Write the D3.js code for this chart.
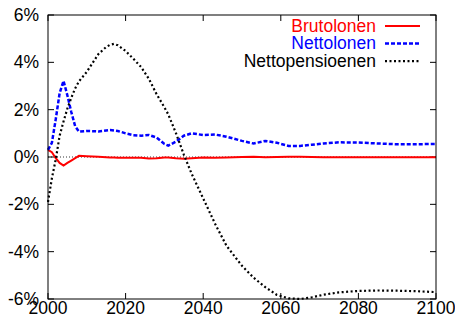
<!DOCTYPE html>
<html>
<head>
<meta charset="utf-8">
<script src="https://cdn.jsdelivr.net/npm/d3@7"></script>
<style>
  body { margin: 0; background: #fff; }
  svg { display: block; font-family: "Liberation Sans", Arial, sans-serif; }
</style>
</head>
<body>
<svg id="chart"></svg>
<script>
const years = [2000, 2001, 2002, 2003, 2004, 2005, 2006, 2007, 2008, 2010, 2013, 2014, 2015, 2016, 2017, 2018,
  2019, 2020, 2022, 2024, 2026, 2028, 2030, 2031, 2033, 2035, 2037, 2040, 2043, 2046, 2050, 2053, 2056,
  2059, 2062, 2065, 2068, 2071, 2075, 2080, 2085, 2090, 2095, 2100];

const brutolonen = [0.3, 0.2, -0.05, -0.25, -0.36, -0.25, -0.15, -0.05, 0.05, 0.03, 0.01, 0.0, -0.01, -0.02, -0.02, -0.03,
  -0.03, -0.03, -0.03, -0.03, -0.06, -0.05, -0.02, -0.02, -0.05, -0.07, -0.05, -0.02, -0.03, -0.02, 0.0, 0.01, -0.01,
  0.0, 0.01, 0.01, 0.0, -0.01, -0.01, -0.01, -0.01, -0.01, -0.01, -0.01];

const nettolonen = [0.3, 0.6, 1.6, 2.7, 3.22, 2.6, 1.9, 1.3, 1.07, 1.1, 1.08, 1.1, 1.12, 1.14, 1.12, 1.1,
  1.05, 1.0, 0.92, 0.9, 0.93, 0.82, 0.55, 0.48, 0.65, 0.9, 1.0, 0.93, 0.95, 0.86, 0.68, 0.57, 0.68,
  0.6, 0.47, 0.47, 0.52, 0.57, 0.62, 0.61, 0.57, 0.54, 0.54, 0.55];

const nettopensioenen = [-1.9, -0.9, -0.1, 0.9, 1.5, 2.05, 2.5, 2.9, 3.2, 3.6, 4.35, 4.5, 4.65, 4.74, 4.78, 4.72,
  4.6, 4.48, 4.15, 3.8, 3.3, 2.65, 2.1, 1.8, 1.0, 0.1, -0.7, -1.75, -2.8, -3.75, -4.6, -5.1, -5.5,
  -5.83, -5.97, -6.0, -5.93, -5.82, -5.72, -5.66, -5.64, -5.65, -5.67, -5.71];

const xTicks = [2000, 2020, 2040, 2060, 2080, 2100];
const yTicks = [-6, -4, -2, 0, 2, 4, 6];

const seriesNames = ['Brutolonen', 'Nettolonen', 'Nettopensioenen'];
const seriesColors = ['#ff0000', '#0000ff', '#000000'];

const width = 455, height = 322;
const marginLeft = 48, marginRight = 19, marginTop = 15, marginBottom = 23;

const svg = d3.select('#chart')
  .attr('width', width)
  .attr('height', height);

const x = d3.scaleLinear().domain([2000, 2100]).range([marginLeft, width - marginRight]);
const y = d3.scaleLinear().domain([-6, 6]).range([height - marginBottom, marginTop]);

// zero axis, thin dotted
svg.append('line')
  .attr('x1', x(2000)).attr('x2', x(2100))
  .attr('y1', y(0)).attr('y2', y(0))
  .attr('stroke', '#000').attr('stroke-width', 0.8)
  .attr('stroke-dasharray', '1,2');

// ticks go inward on all four sides (gnuplot mirror)
const tickLen = 6;
const axisG = svg.append('g').attr('stroke', '#000').attr('stroke-width', 1);
xTicks.forEach((t) => {
  axisG.append('line').attr('x1', x(t)).attr('x2', x(t)).attr('y1', y(-6)).attr('y2', y(-6) - tickLen);
  axisG.append('line').attr('x1', x(t)).attr('x2', x(t)).attr('y1', y(6)).attr('y2', y(6) + tickLen);
});
yTicks.forEach((t) => {
  axisG.append('line').attr('x1', x(2000)).attr('x2', x(2000) + tickLen).attr('y1', y(t)).attr('y2', y(t));
  axisG.append('line').attr('x1', x(2100)).attr('x2', x(2100) - tickLen).attr('y1', y(t)).attr('y2', y(t));
});

// tick labels
svg.append('g').selectAll('text')
  .data(xTicks)
  .join('text')
  .attr('x', (d) => x(d))
  .attr('y', height - marginBottom + 15)
  .attr('text-anchor', 'middle')
  .style('font-size', '17.5px')
  .text((d) => d);

svg.append('g').selectAll('text')
  .data(yTicks)
  .join('text')
  .attr('x', marginLeft - 9)
  .attr('y', (d) => y(d))
  .attr('dy', '0.35em')
  .attr('text-anchor', 'end')
  .style('font-size', '17.5px')
  .text((d) => d + '%');

/** LINES **/
const line = d3.line()
  .x((d) => x(d[0]))
  .y((d) => y(d[1]));

const allSeries = [brutolonen, nettolonen, nettopensioenen];
const dashes = [null, '4,2', '2,2.5'];
const widths = [2, 2.5, 2.2];

allSeries.forEach((vals, i) => {
  svg.append('path')
    .datum(years.map((yr, k) => [yr, vals[k]]))
    .attr('d', line)
    .attr('fill', 'none')
    .attr('stroke', seriesColors[i])
    .attr('stroke-width', widths[i])
    .attr('stroke-dasharray', dashes[i]);
});

// frame
svg.append('rect')
  .attr('x', marginLeft).attr('y', marginTop)
  .attr('width', width - marginLeft - marginRight)
  .attr('height', height - marginTop - marginBottom)
  .attr('fill', 'none').attr('stroke', '#000').attr('stroke-width', 1);

/**
 * LEGEND
 */
seriesNames.forEach((name, i) => {
  const by = 31.5 + i * 17.6;
  svg.append('text')
    .attr('x', 376).attr('y', by)
    .attr('text-anchor', 'end')
    .style('font-size', '17.5px')
    .style('fill', seriesColors[i])
    .text(name);
  svg.append('line')
    .attr('x1', 385).attr('x2', 420)
    .attr('y1', by - 5.5).attr('y2', by - 5.5)
    .attr('stroke', seriesColors[i])
    .attr('stroke-width', widths[i])
    .attr('stroke-dasharray', dashes[i]);
});
</script>
</body>
</html>
